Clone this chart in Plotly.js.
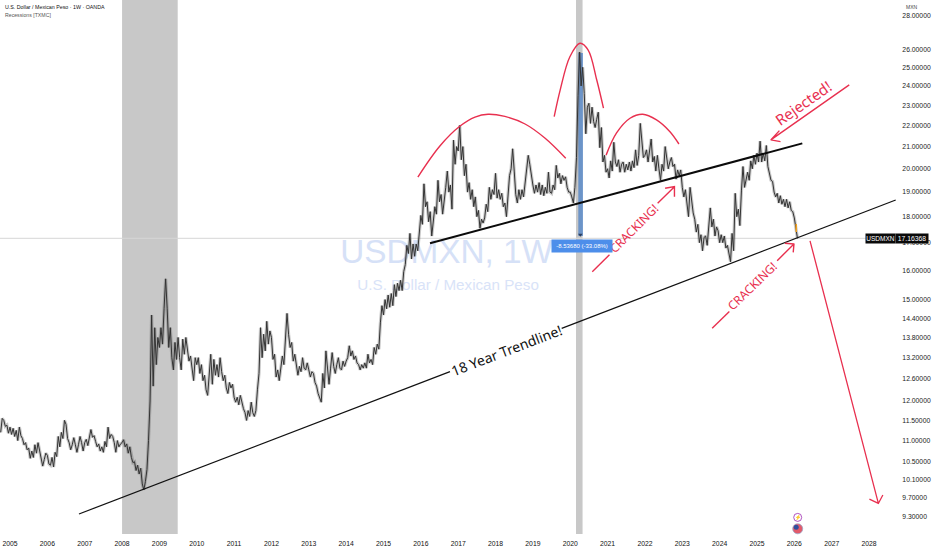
<!DOCTYPE html>
<html><head><meta charset="utf-8">
<script src="https://cdn.plot.ly/plotly-3.0.1.min.js"></script>
<style>html,body{margin:0;padding:0;background:#fff}#c{width:932px;height:550px}</style></head>
<body><div id="c"></div>
<script>
// half-month zigzag of USD/MXN price, per year
const p2004=[11.2,11.55,11.5,11.35,11.38,11.18];
const p2005=[11.33,11.15,11.3,11.1,11.25,11.0,11.33,11.12,11.05,10.9,10.95,10.78,10.82,10.58,10.75,10.6,10.9,10.7,10.95,10.75,10.6,10.4,10.55,10.7];
const p2006=[10.65,10.45,10.42,10.6,10.38,10.72,10.62,11.1,10.85,11.2,11.05,11.5,11.4,11.05,10.95,10.78,10.9,11.07,10.9,10.72,10.9,11.1,10.95,10.75];
const p2007=[10.95,11.03,10.88,11.1,11.27,11.08,11.12,10.98,10.85,10.92,10.75,10.85,10.72,10.98,10.85,11.33,11.05,11.15,11.1,10.95,10.72,11.0,10.85,10.92];
const p2008=[10.95,11.02,10.85,10.92,10.7,10.85,10.6,10.48,10.5,10.3,10.42,10.22,10.35,10.0,9.87,10.05,10.32,11.0,12.0,14.5,12.4,14.1,13.0,13.8];
const p2009=[13.5,14.1,13.6,14.7,15.7,14.7,13.5,14.1,13.2,12.85,13.65,13.15,13.8,13.2,12.85,13.75,13.3,13.8,13.4,13.1,13.25,12.95,12.55,13.2];
const p2010=[13.0,13.2,12.75,13.0,12.55,12.7,12.3,12.15,12.6,13.3,12.45,13.15,12.7,13.0,12.65,13.2,12.8,12.55,12.7,12.35,12.2,12.5,12.35,12.45];
const p2011=[12.1,11.97,12.1,11.9,12.15,11.95,11.8,11.7,11.5,11.75,11.6,11.97,11.7,11.6,11.75,12.3,12.75,14.1,13.2,13.9,13.4,14.3,13.6,14.0];
const p2012=[13.8,13.15,13.3,12.65,12.85,12.55,12.95,13.25,13.0,13.9,14.55,13.9,13.5,13.65,13.1,13.3,12.95,12.7,12.95,12.8,13.2,12.9,12.85,13.05];
const p2013=[12.85,12.65,12.8,12.75,12.5,12.4,12.2,12.05,11.97,12.75,12.35,13.4,12.9,12.45,12.9,13.35,12.95,12.75,13.0,13.2,12.9,12.85,13.1,12.95];
const p2014=[13.1,13.2,13.55,13.25,13.4,13.15,13.25,13.05,13.0,12.85,13.0,12.9,13.05,12.9,13.3,13.05,13.15,13.0,13.5,13.3,13.6,13.45,14.25,14.8];
const p2015=[14.5,15.0,14.7,15.15,14.75,15.2,14.8,15.5,15.1,15.55,15.3,15.65,15.3,15.95,16.2,16.9,16.6,17.35,16.4,16.95,16.5,16.95,16.7,17.45];
const p2016=[18.05,17.7,19.35,18.4,18.6,17.8,18.2,17.25,17.9,18.4,18.1,19.5,18.6,18.9,18.1,18.6,19.2,19.9,19.0,19.3,18.3,21.3,20.2,21.0];
const p2017=[20.8,22.0,20.4,21.0,19.7,20.2,19.0,19.4,18.7,19.1,18.4,18.8,18.0,18.25,17.55,17.9,17.75,17.95,18.5,18.2,19.2,18.7,19.1,18.9];
const p2018=[19.8,18.75,19.1,18.7,18.95,18.4,18.55,18.0,18.9,19.7,20.0,20.9,19.9,18.9,18.55,19.1,18.7,19.1,18.8,19.3,19.9,20.6,20.2,19.6];
const p2019=[19.3,18.95,19.3,19.0,19.4,18.9,19.3,18.85,19.2,18.95,19.85,19.0,18.95,19.3,19.1,20.15,19.6,19.8,19.35,19.7,19.5,19.65,19.2,19.0];
const p2020=[19.0,18.8,18.55,19.2,20.5,23.5,25.85,24.0,25.0,23.6,21.6,22.9,23.1,22.1,22.9,22.2,21.9,22.3,22.65,20.95,21.9,20.3,20.6,19.85];
const p2021=[20.0,19.6,20.35,19.9,21.2,20.3,20.1,20.4,19.85,20.2,20.3,19.85,20.2,19.95,20.3,19.9,20.35,20.05,20.85,20.15,20.6,22.1,21.1,20.5];
const p2022=[20.6,20.85,20.3,20.9,21.35,20.3,20.55,19.9,20.6,20.0,19.5,20.2,19.9,21.0,20.5,20.0,20.3,20.5,20.1,20.2,19.55,19.95,19.7,19.95];
const p2023=[19.2,18.8,19.1,18.5,18.0,19.2,18.5,18.15,17.9,17.4,17.7,17.0,17.3,16.7,17.2,17.25,16.9,17.5,18.35,17.6,17.9,17.25,17.6,17.45];
const p2024=[17.0,17.3,17.0,17.25,16.8,16.9,16.6,16.3,17.35,16.7,18.95,18.0,18.3,17.65,19.05,20.1,19.2,19.6,19.85,19.5,20.35,20.0,20.6,20.2];
const p2025=[20.7,20.3,21.25,20.3,20.7,20.35,21.05,20.1,19.75,19.5,19.45,19.0,18.8,18.95,18.55,18.85,18.5,18.7,18.4,18.7,18.35,18.6,18.25,18.2];
const p2026=[17.95,17.6,17.16368];

const yearTicks=[2005,2006,2007,2008,2009,2010,2011,2012,2013,2014,2015,2016,2017,2018,2019,2020,2021,2022,2023,2024,2025,2026,2027,2028];
const priceTicks=[28,26,25,24,23,22,21,20,19,18,17,16,15,14.4,13.8,13.2,12.6,12,11.5,11,10.5,10.1,9.7,9.3];

const lastPrice=17.16368;
const recessions=[[2008.0,2009.49],[2020.154,2020.33]];
const measure={x0:2020.216,x1:2020.34,y0:17.25,y1:25.8};

const trendThinA={x:[2006.847,2016.78],y:[9.36,12.80]};
const trendThinB={x:[2019.771,2028.714],y:[14.08,18.67]};
const neckline={x:[2016.245,2026.213],y:[16.98,21.15]};
const arc1={x:[2015.92,2016.51,2017.05,2017.45,2017.80,2018.25,2018.79,2019.32,2019.88],y:[19.64,21.03,21.97,22.41,22.55,22.44,22.07,21.40,20.47]};
const arc2={x:[2019.57,2019.73,2019.99,2020.26,2020.48,2020.71,2020.89],y:[22.43,23.78,25.59,26.36,25.97,24.31,22.85]};
const arc3={x:[2020.96,2021.24,2021.60,2021.94,2022.31,2022.67,2022.91],y:[20.61,21.64,22.35,22.55,22.27,21.70,21.12]};
const rejectedArrow={x:[2027.47,2025.37,2025.60,2025.37,2025.63],y:[24.05,21.31,21.75,21.31,21.23]};
const crack1Tail={x:[2020.59,2021.05],y:[15.95,16.55]};
const crack1Arrow={x:[2022.34,2022.79,2022.54,2022.79,2022.79],y:[18.54,19.23,19.16,19.23,18.81]};
const crack2Tail={x:[2023.80,2024.26],y:[14.08,14.61]};
const crack2Arrow={x:[2025.54,2025.99,2025.75,2025.99,2025.97],y:[16.34,16.95,16.98,16.95,16.64]};
const downArrow={x:[2026.42,2028.25,2028.01,2028.25,2028.37],y:[17.07,9.58,9.67,9.58,9.76]};
const orangeBar={x:[2026.05,2026.05],y:[17.71,17.40]};

const RED='#e8304f';
const perYear=[[2005,p2005],[2006,p2006],[2007,p2007],[2008,p2008],[2009,p2009],[2010,p2010],[2011,p2011],[2012,p2012],[2013,p2013],[2014,p2014],[2015,p2015],[2016,p2016],[2017,p2017],[2018,p2018],[2019,p2019],[2020,p2020],[2021,p2021],[2022,p2022],[2023,p2023],[2024,p2024],[2025,p2025],[2026,p2026]];
let px=[],py=[];
p2004.forEach((v,i)=>{px.push(2004.75+i/24);py.push(v);});
perYear.forEach(([yr,arr])=>arr.forEach((v,i)=>{px.push(yr+i/24);py.push(v);}));

function ln(o,color,width,extra){return Object.assign({type:'scatter',mode:'lines',x:o.x,y:o.y,line:{color:color,width:width},hoverinfo:'skip',showlegend:false,cliponaxis:false},extra||{});}
function spl(o){return ln(o,RED,1.4,{line:{color:RED,width:1.4,shape:'spline',smoothing:1}});}
function txt(x,y,t,size,color){return {type:'scatter',mode:'text',x:[x],y:[y],text:[t],textposition:'middle center',textfont:{family:'Liberation Sans, Arial',size:size,color:color},hoverinfo:'skip',showlegend:false};}

const traces=[
  txt(2016.69,16.55,'USDMXN, 1W',33.3,'#d6e1f7'),
  txt(2016.73,15.46,'U.S. Dollar / Mexican Peso',15.2,'#d9e3f8'),
  ln({x:px,y:py},'rgba(75,75,75,0.3)',3.2),
  ln({x:px,y:py},'#333333',1,{name:'USD/MXN'}),
  ln(orangeBar,'#f0a020',1.6),
  ln({x:[2020.27],y:[17.3]},'#2c3e5c',1,{mode:'markers',marker:{symbol:'triangle-down',size:4,color:'#2c3e5c'}}),
  ln(trendThinA,'#111',1.2),ln(trendThinB,'#111',1.2),
  ln(neckline,'#0b0b0b',2),
  spl(arc1),spl(arc2),spl(arc3),
  ln(rejectedArrow,RED,1.4),ln(crack1Tail,RED,1.4),ln(crack1Arrow,RED,1.4),
  ln(crack2Tail,RED,1.4),ln(crack2Arrow,RED,1.4),ln(downArrow,RED,1.3),
  ln({x:[2026.09],y:[9.29]},'#9c27b0',1,{mode:'markers+text',text:['⚡'],textposition:'middle center',textfont:{size:5,color:'#9c27b0'},marker:{symbol:'circle',size:8,color:'#fff',line:{color:'#9c27b0',width:0.8}}}),
  ln({x:[2026.09],y:[9.06]},'#e25a6a',1,{mode:'markers',marker:{symbol:'circle',size:10,color:'#e25a6a',line:{color:'#9aa7c9',width:0.8}}}),
  ln({x:[2026.05],y:[9.09]},'#2f4f9e',1,{mode:'markers',marker:{symbol:'circle',size:5,color:'#2f4f9e'}})
];

const shapes=[
  ...recessions.map(r=>({type:'rect',layer:'below',xref:'x',yref:'paper',x0:r[0],x1:r[1],y0:0,y1:1,fillcolor:'#c8c8c8',line:{width:0}})),
  {type:'rect',layer:'below',xref:'x',yref:'y',x0:measure.x0,x1:measure.x1,y0:measure.y0,y1:measure.y1,fillcolor:'rgba(85,135,200,0.8)',line:{width:0}},
  {type:'line',layer:'below',xref:'x',yref:'y',x0:2004.732,x1:2028.722,y0:lastPrice,y1:lastPrice,line:{color:'#d6d6d6',width:1}}
];

function note(x,y,t,size,color,angle){return {xref:'x',yref:'y',x:x,y:Math.log10(y),text:t,showarrow:false,textangle:angle,font:{family:'Noto Sans, Open Sans',size:size,color:color},xanchor:'center',yanchor:'middle'};}
const W=896,H=534;
const annotations=[
  {xref:'paper',yref:'paper',x:3/W,y:1-7/H,text:'U.S. Dollar / Mexican Peso · 1W · OANDA',showarrow:false,xanchor:'left',yanchor:'middle',font:{family:'Liberation Sans',size:5.3,color:'#111'}},
  {xref:'paper',yref:'paper',x:3/W,y:1-14.7/H,text:'Recessions [TXMC]',showarrow:false,xanchor:'left',yanchor:'middle',font:{family:'Liberation Sans',size:5.2,color:'#555'}},
  {xref:'paper',yref:'paper',x:912/W,y:1-7/H,text:'MXN',showarrow:false,xanchor:'center',yanchor:'middle',font:{family:'Liberation Sans',size:5,color:'#444'}},
  note(2018.28,13.40,'18 Year Trendline!',14,'#111',-21),
  note(2026.23,23.11,'Rejected!',15,RED,-35),
  note(2021.71,17.52,'CRACKING!',12,RED,-45),
  note(2024.89,15.46,'CRACKING!',12,RED,-44),
  {xref:'paper',yref:'paper',x:581.5/W,y:1-246.3/H,text:'-8.53680 (-33.08%)',showarrow:false,xanchor:'center',yanchor:'middle',width:60,height:12,bgcolor:'#4d8eea',borderpad:0,font:{family:'Liberation Sans',size:6,color:'#fff'}},
  {xref:'paper',yref:'paper',x:880.5/W,y:1-238.6/H,text:'USDMXN',showarrow:false,xanchor:'center',yanchor:'middle',width:29,height:9,bgcolor:'#0a0a0a',borderpad:0,font:{family:'Liberation Sans',size:6.5,color:'#fff'}},
  {xref:'paper',yref:'paper',x:912/W,y:1-238.6/H,text:'17.16368',showarrow:false,xanchor:'center',yanchor:'middle',width:32,height:9,bgcolor:'#0a0a0a',borderpad:0,font:{family:'Liberation Sans',size:6.8,color:'#fff'}}
];

const layout={
  width:932,height:550,margin:{l:0,r:36,t:0,b:16,pad:0},paper_bgcolor:'#fff',plot_bgcolor:'#fff',showlegend:false,hovermode:false,
  xaxis:{type:'linear',range:[2004.732,2028.722],tickmode:'array',tickvals:yearTicks,ticktext:yearTicks.map(String),showgrid:false,zeroline:false,showline:false,ticks:'outside',ticklen:3,tickcolor:'rgba(0,0,0,0)',tickfont:{family:'Liberation Sans',size:6.8,color:'#111'}},
  yaxis:{type:'log',side:'right',range:[Math.log10(8.957),Math.log10(28.99)],tickmode:'array',tickvals:priceTicks,ticktext:priceTicks.map(v=>v.toFixed(5)),showgrid:false,zeroline:false,showline:false,ticks:'outside',ticklen:4,tickcolor:'rgba(0,0,0,0)',tickfont:{family:'Liberation Sans',size:6.8,color:'#222'}},
  shapes:shapes,annotations:annotations
};
Plotly.newPlot('c',traces,layout,{displayModeBar:false,staticPlot:true});
</script></body></html>
